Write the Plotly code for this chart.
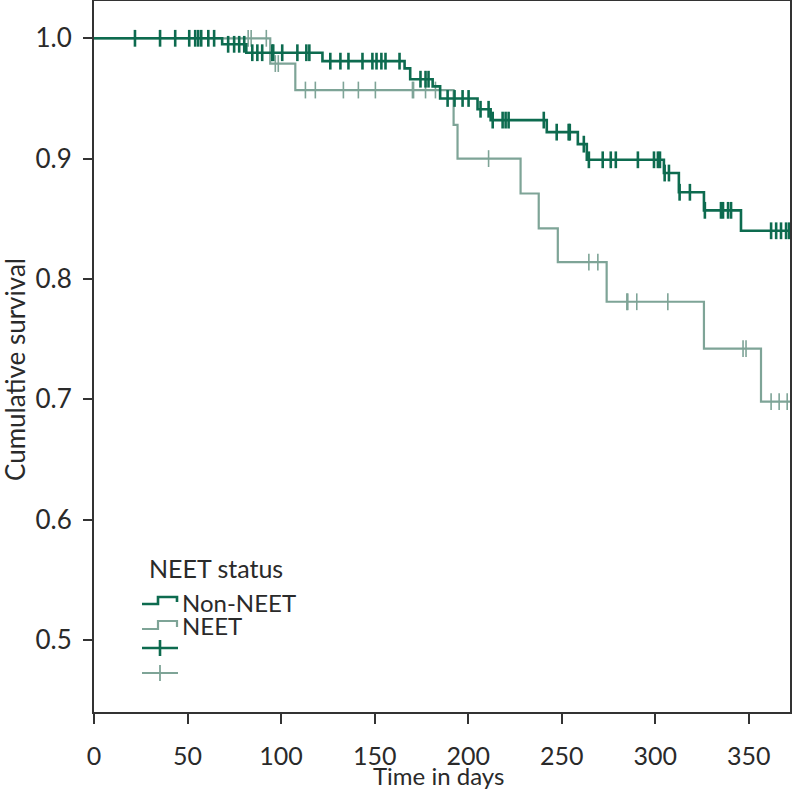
"""Kaplan-Meier curves: cumulative survival by NEET status over one year."""

import plotly.graph_objects as go

# step curves: day of each drop and survival after that drop
NON_NEET_DROP_DAYS = [68.5, 81.4, 122.1, 166.0, 169.0, 181.0, 185.0, 205.0, 212.0,
                      242.0, 258.6, 263.4, 304.6, 312.6, 326.0, 345.8]
NON_NEET_SURV = [0.995, 0.988, 0.981, 0.975, 0.966, 0.960, 0.950, 0.941, 0.932,
                 0.922, 0.912, 0.899, 0.888, 0.872, 0.857, 0.840]
NEET_DROP_DAYS = [94.2, 107.6, 192.2, 194.3, 228.0, 237.7, 247.9, 274.0, 326.0, 356.5]
NEET_SURV = [0.979, 0.957, 0.928, 0.900, 0.871, 0.842, 0.814, 0.781, 0.742, 0.698]

# censored observations (days)
NON_NEET_CENSORED = [21.9, 35.3, 43.4, 50.9, 54.1, 55.7, 57.3, 61.1, 64.2, 71.7, 74.9,
                     77.6, 80.3, 84.6, 87.3, 89.9, 95.3, 95.8, 100.6, 108.7, 113.5,
                     115.1, 126.3, 131.7, 136.0, 143.5, 148.8, 151.0, 153.6, 155.8,
                     163.3, 174.5, 177.2, 178.8, 189.0, 192.7, 197.0, 200.2, 206.6,
                     210.9, 213.1, 218.4, 220.0, 221.6, 240.4, 247.3, 253.7, 254.3,
                     261.8, 264.5, 271.9, 276.2, 278.9, 290.7, 299.3, 301.4, 302.5,
                     305.0, 307.3, 313.0, 318.5, 326.5, 335.1, 336.2, 338.9, 340.5,
                     361.9, 364.6, 367.2, 369.9, 371.5]
NEET_CENSORED = [82.4, 84.0, 92.1, 96.9, 98.5, 113.0, 118.3, 133.3, 141.3, 150.4,
                 170.2, 170.8, 177.2, 182.5, 210.9, 264.5, 269.3, 284.8, 285.3,
                 290.1, 306.7, 346.9, 348.5, 361.9, 366.2, 370.5]

X_END = 372
X_TICKS = [0, 50, 100, 150, 200, 250, 300, 350]
Y_TICKS = [0.5, 0.6, 0.7, 0.8, 0.9, 1.0]

DARK = "#0d6b4f"
LIGHT = "#7ea497"
AXIS = "#333333"
TEXT = "#2a2a2a"
FONT = "Lato, Roboto, sans-serif"


def surv_at(t, days, surv):
    s = 1.0
    for d, v in zip(days, surv):
        if d <= t:
            s = v
    return s


def curve(days, surv):
    return [0] + days + [X_END], [1.0] + surv + [surv[-1]]


fig = go.Figure()

for days, surv, cens, color, lw, mw in [
    (NEET_DROP_DAYS, NEET_SURV, NEET_CENSORED, LIGHT, 2.2, 1.6),
    (NON_NEET_DROP_DAYS, NON_NEET_SURV, NON_NEET_CENSORED, DARK, 2.6, 2.6),
]:
    x, y = curve(days, surv)
    fig.add_trace(go.Scatter(x=x, y=y, mode="lines", line_shape="hv",
                             line=dict(color=color, width=lw), showlegend=False,
                             hoverinfo="skip"))
    fig.add_trace(go.Scatter(
        x=cens, y=[surv_at(t, days, surv) for t in cens], mode="markers",
        marker=dict(symbol="line-ns", size=12, line=dict(color=color, width=mw)),
        showlegend=False, hoverinfo="skip"))


# pixel -> paper helpers for the hand-drawn legend and axis titles
def px(xp):
    return (xp - 94) / 696


def py(yp):
    return (712 - yp) / 711


shapes = []
for y_lo, y_hi, color, w in [(604, 597, DARK, 2.6), (629, 621, LIGHT, 2.2)]:
    path = (f"M {px(142)},{py(y_lo)} L {px(158)},{py(y_lo)} L {px(158)},{py(y_hi)} "
            f"L {px(177)},{py(y_hi)} L {px(177)},{py(y_lo - 2)}")
    shapes.append(dict(type="path", xref="paper", yref="paper", path=path,
                       line=dict(color=color, width=w)))
for yc, color, w in [(648, DARK, 2.6), (673, LIGHT, 1.8)]:
    shapes.append(dict(type="line", xref="paper", yref="paper", x0=px(142), x1=px(178),
                       y0=py(yc), y1=py(yc), line=dict(color=color, width=w)))
    shapes.append(dict(type="line", xref="paper", yref="paper", x0=px(160), x1=px(160),
                       y0=py(yc - 8), y1=py(yc + 8), line=dict(color=color, width=w)))

annotations = [
    dict(text="NEET status", x=px(147), y=py(568), xanchor="left", yanchor="middle",
         size=25),
    dict(text="Non-NEET", x=px(180), y=py(602), xanchor="left", yanchor="middle",
         size=24),
    dict(text="NEET", x=px(180), y=py(625), xanchor="left", yanchor="middle", size=24),
    dict(text="Time in days", x=px(438), y=py(775), xanchor="center",
         yanchor="middle", size=24),
    dict(text="Cumulative survival", x=px(15), y=py(370), xanchor="center",
         yanchor="middle", textangle=-90, size=26),
]
for a in annotations:
    a.update(xref="paper", yref="paper", showarrow=False,
             font=dict(family=FONT, size=a.pop("size"), color=TEXT))

fig.update_layout(
    width=793, height=790,
    margin=dict(l=94, r=3, t=1, b=78),
    plot_bgcolor="white", paper_bgcolor="white",
    font=dict(family=FONT, size=26, color=TEXT),
    shapes=shapes, annotations=annotations,
    showlegend=False,
)
fig.update_xaxes(
    range=[0, X_END], tickvals=X_TICKS, ticks="outside", ticklen=10, tickwidth=1.5,
    tickcolor=AXIS, showline=True, linecolor=AXIS, linewidth=2, mirror=True,
    showgrid=False, zeroline=False, ticklabelstandoff=11, automargin=False,
    tickfont=dict(family=FONT, size=25, color=TEXT),
)
fig.update_yaxes(
    range=[0.44, 1.031], tickvals=Y_TICKS, tickformat=".1f", ticks="outside",
    ticklen=9, tickwidth=1.5, tickcolor=AXIS, showline=True, linecolor=AXIS,
    linewidth=2, mirror=True, showgrid=False, zeroline=False, ticklabelstandoff=6,
    automargin=False, tickfont=dict(family=FONT, size=26, color=TEXT),
)

# drop the browser's default body margin so the figure sits at the page corner
fig.write_html("out.html", config={"displayModeBar": False},
               post_script="document.body.style.margin = '0';")
